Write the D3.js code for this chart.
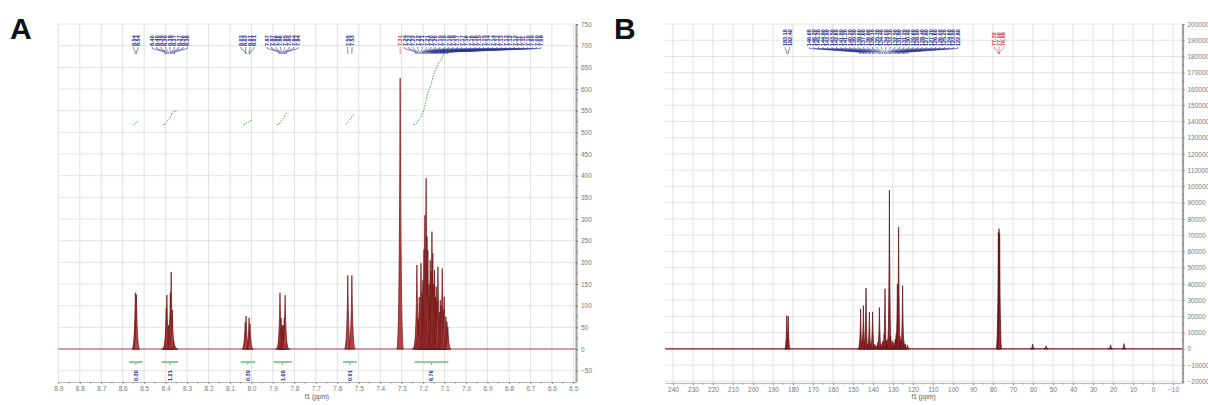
<!DOCTYPE html>
<html>
<head>
<meta charset="utf-8">
<script src="https://cdn.jsdelivr.net/npm/d3@7"></script>
<style>
  body { margin: 0; background: #fff; }
  svg text { font-family: "Liberation Sans", Arial, sans-serif; }
</style>
</head>
<body>
<div id="root"></div>
<script>
// ---- panel A: 1H spectrum, picked lines [ppm] and intensities ----
var hShift = [8.541, 8.536,
  8.404, 8.397, 8.394, 8.387, 8.378, 8.374, 8.369, 8.362, 8.358,
  8.029, 8.025, 8.011, 8.007,
  7.872, 7.867, 7.862, 7.857, 7.852, 7.847, 7.843, 7.837,
  7.551, 7.532,
  7.236, 7.229, 7.224, 7.218, 7.210, 7.205, 7.201, 7.196, 7.192, 7.186,
  7.182, 7.178, 7.172, 7.167, 7.163, 7.159, 7.155, 7.151, 7.147, 7.143,
  7.139, 7.135, 7.131, 7.125, 7.120, 7.115, 7.111, 7.106, 7.102, 7.094,
  7.089, 7.085];
var hHeight = [130, 126,
  10, 95, 125, 55, 130, 178, 90, 18, 8,
  62, 76, 72, 58,
  15, 130, 72, 55, 55, 72, 124, 14,
  170, 170,
  25, 194, 70, 120, 198, 130, 159, 230, 309, 394,
  260, 228, 150, 205, 180, 271, 221, 150, 182, 120,
  144, 110, 190, 85, 113, 100, 186, 90, 121, 75,
  63, 51];
var hSolventShift = [7.307];
var hSolventHeight = [625];

// integration regions
var hIntFrom = [8.570, 8.418, 8.050, 7.898, 7.574, 7.240];
var hIntTo = [8.507, 8.341, 7.983, 7.812, 7.509, 7.082];
var hIntValue = [0.30, 1.21, 0.39, 1.00, 0.91, 6.76];

var hXTicks = [8.9, 8.8, 8.7, 8.6, 8.5, 8.4, 8.3, 8.2, 8.1, 8.0, 7.9, 7.8, 7.7,
  7.6, 7.5, 7.4, 7.3, 7.2, 7.1, 7.0, 6.9, 6.8, 6.7, 6.6, 6.5];
var hYTicks = [-50, 0, 50, 100, 150, 200, 250, 300, 350, 400, 450, 500, 550,
  600, 650, 700, 750];

// ---- panel B: 13C spectrum ----
var cShift = [183.1, 182.4,
  146.6, 146.2, 145.3, 144.8, 143.9, 143.5, 142.6, 141.8, 141.2, 140.2,
  139.5, 138.6, 137.6, 136.8, 136.1, 135.3, 134.4, 134.0, 133.3, 132.5,
  131.8, 131.2, 130.4, 129.6, 128.9, 128.4, 127.8, 127.2, 126.6, 126.0,
  125.2, 124.6, 123.9, 122.8];
var cHeight = [20500, 20000,
  4000, 24500, 5000, 26700, 4000, 37400, 3000, 22600, 3500, 22600,
  3000, 2500, 4000, 25500, 3000, 4500, 9000, 37000, 5000, 6000,
  97700, 8000, 5000, 4000, 6000, 9000, 40000, 75000, 8000, 6000,
  39000, 5000, 3000, 2500];
var cSolventShift = [77.32, 77.00, 76.68];
var cSolventHeight = [72000, 74000, 71000];
var cMinorShift = [60.2, 53.5, 21.2, 14.5];
var cMinorHeight = [3000, 1800, 2500, 3300];

var cXTicks = [240, 230, 220, 210, 200, 190, 180, 170, 160, 150, 140, 130, 120,
  110, 100, 90, 80, 70, 60, 50, 40, 30, 20, 10, 0, -10];
var cYTicks = [-20000, -10000, 0, 10000, 20000, 30000, 40000, 50000, 60000,
  70000, 80000, 90000, 100000, 110000, 120000, 130000, 140000, 150000,
  160000, 170000, 180000, 190000, 200000];

var svg = d3.select('#root')
  .append('svg')
    .attr('width', 1208)
    .attr('height', 405);

function zipPeaks(shifts, heights, type) {
  return shifts.map(function (s, i) {
    return { s: s, h: heights[i], type: type };
  });
}

function spike(x, y0, ya, w) {
  var mid = y0 + (ya - y0) * 0.5;
  return 'M' + (x - w) + ',' + y0 +
    'C' + (x - w * 0.35) + ',' + y0 + ' ' + (x - w * 0.14) + ',' + mid + ' ' + x + ',' + ya +
    'C' + (x + w * 0.14) + ',' + mid + ' ' + (x + w * 0.35) + ',' + y0 + ' ' + (x + w) + ',' + y0 + 'Z';
}

// spread labels so they don't overlap, each cluster centred over its lines
function placeLabels(xs, gap) {
  var clusters = [];
  xs.forEach(function (x, i) {
    var last = clusters[clusters.length - 1];
    if (last && x - xs[i - 1] < gap) last.push(i);
    else clusters.push([i]);
  });
  var out = [], prevEnd = -Infinity;
  clusters.forEach(function (c) {
    var mean = d3.mean(c, function (i) { return xs[i]; });
    var span = (c.length - 1) * gap;
    var start = Math.max(mean - span / 2, prevEnd + gap);
    c.forEach(function (i, k) { out[i] = start + k * gap; });
    prevEnd = start + span;
  });
  return out;
}

function drawPanel(p) {
  var x = d3.scaleLinear().domain(p.xDomain).range(p.xRange);
  var y = d3.scaleLinear().domain(p.yDomain).range(p.yRange);
  var left = p.xRange[0], right = p.xRange[1];
  var top = p.yRange[1], bottom = p.yRange[0];
  var g = svg.append('g');

  // grid
  g.append('g').selectAll('line')
      .data(p.xTicks)
    .enter().append('line')
      .attr('x1', function (d) { return x(d); })
      .attr('x2', function (d) { return x(d); })
      .attr('y1', top)
      .attr('y2', bottom)
      .attr('stroke', '#e0e0e0');
  g.append('g').selectAll('line')
      .data(p.yTicks)
    .enter().append('line')
      .attr('x1', left)
      .attr('x2', right)
      .attr('y1', function (d) { return y(d); })
      .attr('y2', function (d) { return y(d); })
      .attr('stroke', '#e3e3e3');

  // bottom axis
  var gx = g.append('g')
      .attr('transform', 'translate(0,' + bottom + ')')
      .call(d3.axisBottom(x).tickValues(p.xTicks).tickFormat(p.xFormat)
        .tickSize(2).tickSizeOuter(0).tickPadding(2));
  var xMinor = p.xTicks.slice(1).map(function (t, i) { return (t + p.xTicks[i]) / 2; });
  gx.selectAll('.minor')
      .data(xMinor)
    .enter().append('line')
      .attr('class', 'minor')
      .attr('x1', function (d) { return x(d); })
      .attr('x2', function (d) { return x(d); })
      .attr('y1', 0)
      .attr('y2', 1.5)
      .attr('stroke', '#888');
  gx.select('.domain').attr('stroke', '#bbb');
  gx.selectAll('.tick line').attr('stroke', '#888');
  gx.selectAll('text').attr('fill', '#777').style('font-size', '6.5px');

  // right axis
  var gy = g.append('g')
      .attr('transform', 'translate(' + (right + 0.5) + ',0)')
      .call(d3.axisRight(y).tickValues(p.yTicks).tickFormat(d3.format('d'))
        .tickSize(2).tickSizeOuter(0).tickPadding(3));
  var yMinor = p.yTicks.slice(1).map(function (t, i) { return (t + p.yTicks[i]) / 2; });
  gy.selectAll('.minor')
      .data(yMinor)
    .enter().append('line')
      .attr('class', 'minor')
      .attr('x1', 0)
      .attr('x2', 1.5)
      .attr('y1', function (d) { return y(d); })
      .attr('y2', function (d) { return y(d); })
      .attr('stroke', '#777');
  gy.select('.domain').attr('stroke', '#a3a3a3').attr('stroke-width', 2.2);
  gy.selectAll('.tick line').attr('stroke', '#777');
  gy.selectAll('text').attr('fill', '#777').style('font-size', '6.5px');

  g.append('text')
      .attr('x', (left + right) / 2)
      .attr('y', 399)
      .attr('text-anchor', 'middle')
      .attr('fill', '#555')
      .style('font-size', '6.5px')
      .text('f1 (ppm)');

  // spectrum: baseline + lines
  var y0 = y(0);
  g.append('line')
      .attr('x1', left)
      .attr('x2', right)
      .attr('y1', y0)
      .attr('y2', y0)
      .attr('stroke', p.baseColour)
      .attr('stroke-width', 1.1);

  var peaks = p.peaks.slice().sort(function (a, b) { return b.s - a.s; });
  g.append('g').selectAll('path')
      .data(peaks)
    .enter().append('path')
      .attr('d', function (d) { return spike(x(d.s), y0, y(d.h), p.w); })
      .attr('fill', p.fill)
      .attr('stroke', p.stroke)
      .attr('stroke-width', 0.7);

  // peak-pick labels along the top
  var picked = peaks.filter(function (d) { return d.type !== 'minor'; });
  var lx = placeLabels(picked.map(function (d) { return x(d.s); }), p.gap);
  var lab = g.append('g');
  lab.selectAll('path')
      .data(picked)
    .enter().append('path')
      .attr('d', function (d, i) {
        var px = x(d.s);
        return 'M' + lx[i] + ',47L' + lx[i] + ',48.5L' + px + ',52L' + px + ',54';
      })
      .attr('fill', 'none')
      .attr('stroke', function (d) { return d.type === 'solvent' ? '#d63a3a' : '#2a3596'; })
      .attr('stroke-width', 0.6);
  lab.selectAll('text')
      .data(picked)
    .enter().append('text')
      .attr('transform', function (d, i) { return 'translate(' + lx[i] + ',46) rotate(-90)'; })
      .attr('dy', '0.35em')
      .attr('fill', function (d) { return d.type === 'solvent' ? '#d63a3a' : '#1c2a8a'; })
      .style('font-size', '5.5px')
      .style('font-weight', 'bold')
      .text(function (d) { return d3.format('.2f')(d.s); });

  // integrals
  if (p.integrals) {
    var yi = d3.scaleLinear().domain([0, 1]).range([124.5, 113.5]);
    var ig = g.append('g');
    p.integrals.forEach(function (r) {
      var inside = peaks.filter(function (d) { return d.s <= r.from && d.s >= r.to; });
      var total = d3.sum(inside, function (d) { return d.h; });
      var cum = 0, pts = [[x(inside[0].s) - 2, 0]];
      inside.forEach(function (d) {
        pts.push([x(d.s), (cum + d.h / 2) / total * r.value]);
        cum += d.h;
      });
      pts.push([x(inside[inside.length - 1].s) + 2, r.value]);
      ig.append('path')
          .attr('d', d3.line()
            .x(function (q) { return q[0]; })
            .y(function (q) { return yi(q[1]); })
            .curve(d3.curveMonotoneX)(pts))
          .attr('fill', 'none')
          .attr('stroke', '#3f9a3f')
          .attr('stroke-width', 0.9)
          .attr('stroke-dasharray', '1.6,1.2');

      var cx = (x(r.from) + x(r.to)) / 2;
      ig.append('line')
          .attr('x1', x(r.from))
          .attr('x2', x(r.to))
          .attr('y1', 362)
          .attr('y2', 362)
          .attr('stroke', '#74c174')
          .attr('stroke-width', 1.6);
      ig.append('line')
          .attr('x1', cx)
          .attr('x2', cx)
          .attr('y1', 362)
          .attr('y2', 365)
          .attr('stroke', '#74c174');
      ig.append('text')
          .attr('transform', 'translate(' + cx + ',381) rotate(-90)')
          .attr('dy', '0.35em')
          .attr('fill', '#1c2a8a')
          .style('font-size', '5.5px')
          .style('font-weight', 'bold')
          .text(d3.format('.2f')(r.value));
    });
  }

  svg.append('text')
      .attr('x', p.letterX)
      .attr('y', 39)
      .style('font-size', '30px')
      .style('font-weight', 'bold')
      .attr('fill', '#111')
      .text(p.letter);
}

drawPanel({
  letter: 'A',
  letterX: 10,
  xDomain: [8.9, 6.49],
  xRange: [58.3, 575.5],
  yDomain: [-76, 750],
  yRange: [382, 24],
  xTicks: hXTicks,
  yTicks: hYTicks,
  xFormat: d3.format('.1f'),
  peaks: zipPeaks(hShift, hHeight, 'peak')
    .concat(zipPeaks(hSolventShift, hSolventHeight, 'solvent')),
  integrals: hIntFrom.map(function (f, i) {
    return { from: f, to: hIntTo[i], value: hIntValue[i] };
  }),
  w: 3.3,
  gap: 4.4,
  baseColour: '#b04a4a',
  fill: '#b04545',
  stroke: '#6a1010'
});

drawPanel({
  letter: 'B',
  letterX: 614,
  xDomain: [244, -14.5],
  xRange: [665, 1182],
  yDomain: [-21000, 200000],
  yRange: [383, 24],
  xTicks: cXTicks,
  yTicks: cYTicks,
  xFormat: d3.format('d'),
  peaks: zipPeaks(cShift, cHeight, 'peak')
    .concat(zipPeaks(cSolventShift, cSolventHeight, 'solvent'))
    .concat(zipPeaks(cMinorShift, cMinorHeight, 'minor')),
  w: 2.1,
  gap: 4.5,
  baseColour: '#7a1f1f',
  fill: '#9c2a2a',
  stroke: '#5a0c0c'
});
</script>
</body>
</html>
